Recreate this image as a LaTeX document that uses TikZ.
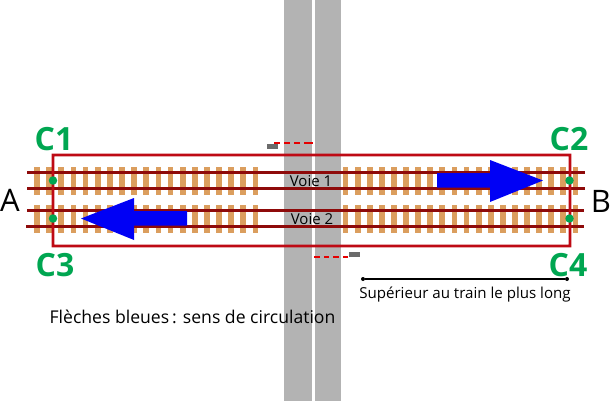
\documentclass[tikz,border=0pt]{standalone}
\usepackage{fontspec}
\setmainfont{Open Sans}
\definecolor{railred}{HTML}{8E0A0A}
\definecolor{boxred}{HTML}{BE0A14}
\definecolor{tie}{HTML}{DB9E5E}
\definecolor{road}{HTML}{B3B3B3}
\definecolor{signal}{HTML}{00A651}
\definecolor{arrowblue}{HTML}{0000F5}
\tikzset{
  x=1pt,y=-1pt,
  tiebar/.style={fill=tie,draw=none},
  rail/.style={fill=railred,draw=none},
  roadbar/.style={fill=road,draw=none},
  gate/.style={fill=black!58,draw=none},
  boomred/.style={fill=red!90!black,draw=none},
  sensor/.style={circle,fill=signal,draw=none,inner sep=0pt,minimum size=8.5pt},
  sensorlabel/.style={text=signal,font=\fontsize{32}{32}\selectfont\bfseries,inner sep=0pt},
  endlabel/.style={font=\fontsize{31}{31}\selectfont,inner sep=0pt},
  tracklabel/.style={font=\fontsize{15}{15}\selectfont,inner sep=0pt,text=black},
  note/.style={font=\fontsize{15.1}{16}\selectfont,inner sep=0pt,text=black},
  bigarrow/.style={fill=arrowblue,draw=none},
}
\begin{document}
\begin{tikzpicture}
\useasboundingbox (0,0) rectangle (610,407);
% road
\fill[roadbar] (284,0) rectangle (312,401);
\fill[roadbar] (315,0) rectangle (341,401);
% ties
\foreach \n in {0,...,18}{
  \pgfmathsetmacro\cx{37+12.14*\n}
  \fill[tiebar] (\cx-2.9,167) rectangle (\cx+2.9,195);
  \fill[tiebar] (\cx-2.9,205) rectangle (\cx+2.9,233);
}
\foreach \n in {0,...,19}{
  \pgfmathsetmacro\cx{345.5+12.1*\n}
  \fill[tiebar] (\cx-2.9,167) rectangle (\cx+2.9,195);
  \fill[tiebar] (\cx-2.9,205) rectangle (\cx+2.9,233);
}
% rails
\fill[rail] (27,171.3) rectangle (585,173.7);
\fill[rail] (27,187.3) rectangle (585,189.7);
\fill[rail] (27,209.3) rectangle (584,211.7);
\fill[rail] (26,225.3) rectangle (584,227.7);
% frame
\fill[boxred,even odd rule] (51.7,153.7) rectangle (571.3,247.3) (54.3,156.3) rectangle (568.7,244.7);
% sensors
\node[sensor] (s1) at (53,180.5) {};
\node[sensor] (s2) at (569.5,180.5) {};
\node[sensor] (s3) at (53,218.5) {};
\node[sensor] (s4) at (569.5,218.5) {};
% arrows
\fill[bigarrow] (437,173) -- (490,173) -- (490,160) -- (543,180.5) -- (490,202) -- (490,187.5) -- (437,187.5) -- cycle;
\fill[bigarrow] (187,211) -- (134,211) -- (134,198) -- (81,218.5) -- (134,240) -- (134,225.5) -- (187,225.5) -- cycle;
% barriers
\fill[gate] (267,144) rectangle (278,149);
\fill[gate] (349,252) rectangle (360,257);
\foreach \n in {0,...,3}{
  \fill[boomred] (274+10*\n,142.3) rectangle (279.5+10*\n,143.8);
}
\fill[boomred] (309,142.3) rectangle (313,143.8);
\foreach \n in {0,...,3}{
  \fill[boomred] (314+9.5*\n,256.4) rectangle (319.5+9.5*\n,258);
}
% labels
\node[sensorlabel] (c1) at (54,139) {C1};
\node[sensorlabel] (c2) at (569,139) {C2};
\node[sensorlabel] (c3) at (55,265) {C3};
\node[sensorlabel] (c4) at (568,265) {C4};
\node[endlabel] (a) at (10,200) {A};
\node[endlabel] (b) at (601,201) {B};
\node[tracklabel] (v1) at (311,181) {Voie 1};
\node[tracklabel] (v2) at (312,219) {Voie 2};
% length
\node[circle,fill=black,inner sep=0pt,minimum size=4pt] (d1) at (363,279) {};
\node[circle,fill=black,inner sep=0pt,minimum size=4pt] (d2) at (567,279) {};
\draw[black,line width=1.2pt] (d1) -- (d2);
\node[note] (sup) at (465,295) {Supérieur au train le plus long};
\node[note,font=\fontsize{17.6}{18}\selectfont] (fl) at (192.5,317) {Flèches bleues\,: sens de circulation};
\end{tikzpicture}
\end{document}
